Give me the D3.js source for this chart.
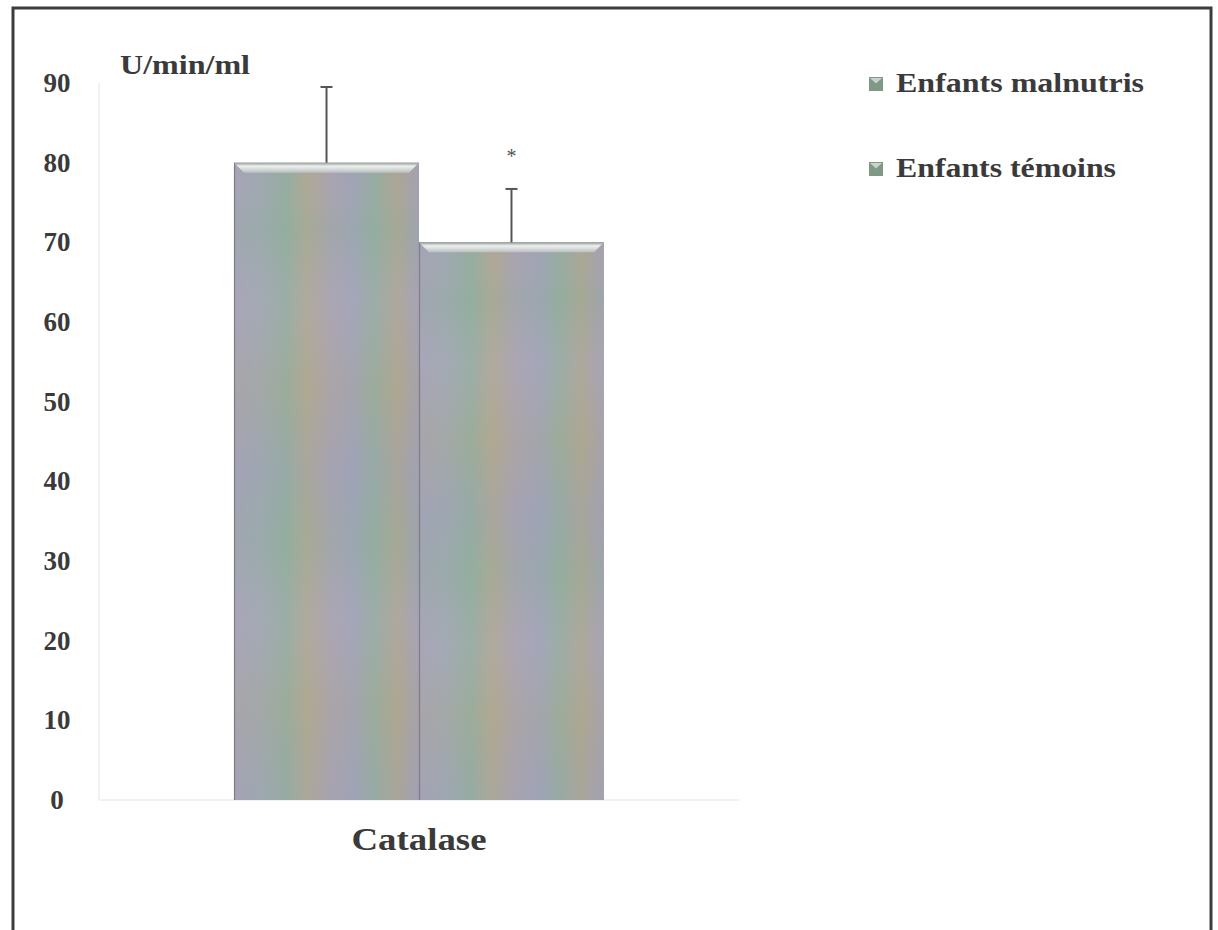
<!DOCTYPE html>
<html>
<head>
<meta charset="utf-8">
<script src="https://cdn.jsdelivr.net/npm/d3@7"></script>
<style>
  html, body { margin: 0; padding: 0; background: #fff; }
  svg { display: block; }
  text { font-family: "Liberation Serif", "DejaVu Serif", serif; font-weight: bold; fill: #3a3a3a; }
</style>
</head>
<body>
<svg id="chart" width="1218" height="930"></svg>
<script>
// Catalase activity (U/min/ml), mean ± SD
const categories = ["Catalase"];
const series = ["Enfants malnutris", "Enfants témoins"];
const means = [80, 70];
const errors = [9.5, 6.7];
const significant = [false, true];
const yTicks = [0, 10, 20, 30, 40, 50, 60, 70, 80, 90];

const svg = d3.select("#chart");

// outer frame
svg.append("rect")
  .attr("x", 13).attr("y", 8).attr("width", 1198).attr("height", 1000)
  .attr("fill", "#fff").attr("stroke", "#3c3c3c").attr("stroke-width", 3);

const y = d3.scaleLinear().domain([0, 90]).range([800, 83]);
const x0 = d3.scaleBand().domain(categories).range([99, 739])
  .paddingInner(0).paddingOuter(0.365);
const x1 = d3.scaleBand().domain(series).range([0, x0.bandwidth()]).padding(0);

const defs = svg.append("defs");

// iridescent fill of the bars
const grad = defs.append("linearGradient").attr("id", "barFill")
  .attr("x1", "0").attr("y1", "0").attr("x2", "1").attr("y2", "0");
[["0%", "#a5a3b4"], ["14%", "#9fa8b0"], ["28%", "#94ad9f"], ["40%", "#afa892"],
 ["52%", "#a9a3ae"], ["64%", "#a0a3b6"], ["76%", "#95aca0"], ["88%", "#aca692"], ["100%", "#a3a0b0"]]
  .forEach(([o, c]) => grad.append("stop").attr("offset", o).attr("stop-color", c));

const bands = defs.append("linearGradient").attr("id", "bandFill")
  .attr("x1", "0").attr("y1", "0").attr("x2", "0").attr("y2", "1");
[["0%", "#b8b0c8", 0.0], ["10%", "#8fb09e", 0.25], ["22%", "#b8b0c8", 0.2], ["35%", "#b2a98f", 0.25],
 ["48%", "#9ea2b8", 0.3], ["60%", "#8fb09e", 0.25], ["72%", "#b8b0c8", 0.2], ["85%", "#b2a98f", 0.25], ["100%", "#9ea2b8", 0.2]]
  .forEach(([o, c, a]) => bands.append("stop").attr("offset", o).attr("stop-color", c).attr("stop-opacity", a));

const bevel = defs.append("linearGradient").attr("id", "bevelFill")
  .attr("x1", "0").attr("y1", "0").attr("x2", "0").attr("y2", "1");
bevel.append("stop").attr("offset", "0%").attr("stop-color", "#8e9a96");
bevel.append("stop").attr("offset", "35%").attr("stop-color", "#eef0ee");
bevel.append("stop").attr("offset", "100%").attr("stop-color", "#b9c0c0");

// faint axis lines
svg.append("line")
  .attr("x1", 99).attr("x2", 99).attr("y1", y(90)).attr("y2", y(0))
  .attr("stroke", "#ececec").attr("stroke-width", 1.5);
svg.append("line")
  .attr("x1", x0.range()[0]).attr("x2", x0.range()[1]).attr("y1", y(0)).attr("y2", y(0))
  .attr("stroke", "#ececec").attr("stroke-width", 1.5);

// y tick labels
svg.append("g").selectAll("text").data(yTicks).join("text")
  .attr("x", 57).attr("y", d => y(d) + 9)
  .attr("text-anchor", "middle")
  .style("font-size", "27px")
  .text(d => d);

svg.append("text")
  .attr("x", 120).attr("y", 74)
  .attr("textLength", 130).attr("lengthAdjust", "spacingAndGlyphs")
  .style("font-size", "27px")
  .text("U/min/ml");

// bars
const rows = series.map((s, i) => ({ s, v: means[i], e: errors[i], sig: significant[i] }));
const g = svg.append("g").attr("transform", `translate(${x0("Catalase")},0)`);

const barG = g.selectAll("g.bar").data(rows).join("g").attr("class", "bar");
barG.append("rect")
  .attr("x", d => x1(d.s)).attr("y", d => y(d.v))
  .attr("width", x1.bandwidth()).attr("height", d => y(0) - y(d.v))
  .attr("fill", "url(#barFill)");
barG.append("rect")
  .attr("x", d => x1(d.s)).attr("y", d => y(d.v))
  .attr("width", x1.bandwidth()).attr("height", d => y(0) - y(d.v))
  .attr("fill", "url(#bandFill)");
barG.append("line")
  .attr("x1", d => x1(d.s) + 0.5).attr("x2", d => x1(d.s) + 0.5)
  .attr("y1", d => y(d.v)).attr("y2", y(0))
  .attr("stroke", "#7d7c88").attr("stroke-width", 1.2);
// bevelled top edge
barG.append("path")
  .attr("d", d => {
    const l = x1(d.s), r = x1(d.s) + x1.bandwidth(), t = y(d.v), b = t + 10;
    return `M${l},${t}L${r},${t}L${r - 10},${b}L${l + 10},${b}Z`;
  })
  .attr("fill", "url(#bevelFill)");

// error bars
const cx = d => x1(d.s) + x1.bandwidth() / 2;
barG.append("line")
  .attr("x1", cx).attr("x2", cx)
  .attr("y1", d => y(d.v)).attr("y2", d => y(d.v + d.e))
  .attr("stroke", "#555").attr("stroke-width", 2);
barG.append("line")
  .attr("x1", d => cx(d) - 6).attr("x2", d => cx(d) + 6)
  .attr("y1", d => y(d.v + d.e)).attr("y2", d => y(d.v + d.e))
  .attr("stroke", "#555").attr("stroke-width", 2);
barG.filter(d => d.sig).append("text")
  .attr("x", cx).attr("y", d => y(d.v + d.e) - 26)
  .attr("text-anchor", "middle")
  .style("font-size", "20px").style("font-weight", "normal").style("fill", "#555")
  .text("*");

// category label
svg.append("text")
  .attr("x", x0("Catalase") + x0.bandwidth() / 2).attr("y", 850)
  .attr("text-anchor", "middle")
  .attr("textLength", 135).attr("lengthAdjust", "spacingAndGlyphs")
  .style("font-size", "32px")
  .text("Catalase");

// legend
const legend = svg.append("g").selectAll("g").data(series).join("g")
  .attr("transform", (d, i) => `translate(869, ${77 + i * 85})`);
legend.append("rect")
  .attr("width", 14).attr("height", 14).attr("fill", "#7e9a86");
legend.append("path")
  .attr("d", "M1,1L13,1L7,6.5Z").attr("fill", "#c8d4cc");
legend.append("text")
  .attr("x", 27).attr("y", 15)
  .attr("textLength", (d, i) => i === 0 ? 248 : 220).attr("lengthAdjust", "spacingAndGlyphs")
  .style("font-size", "27px")
  .text(d => d);
</script>
</body>
</html>
